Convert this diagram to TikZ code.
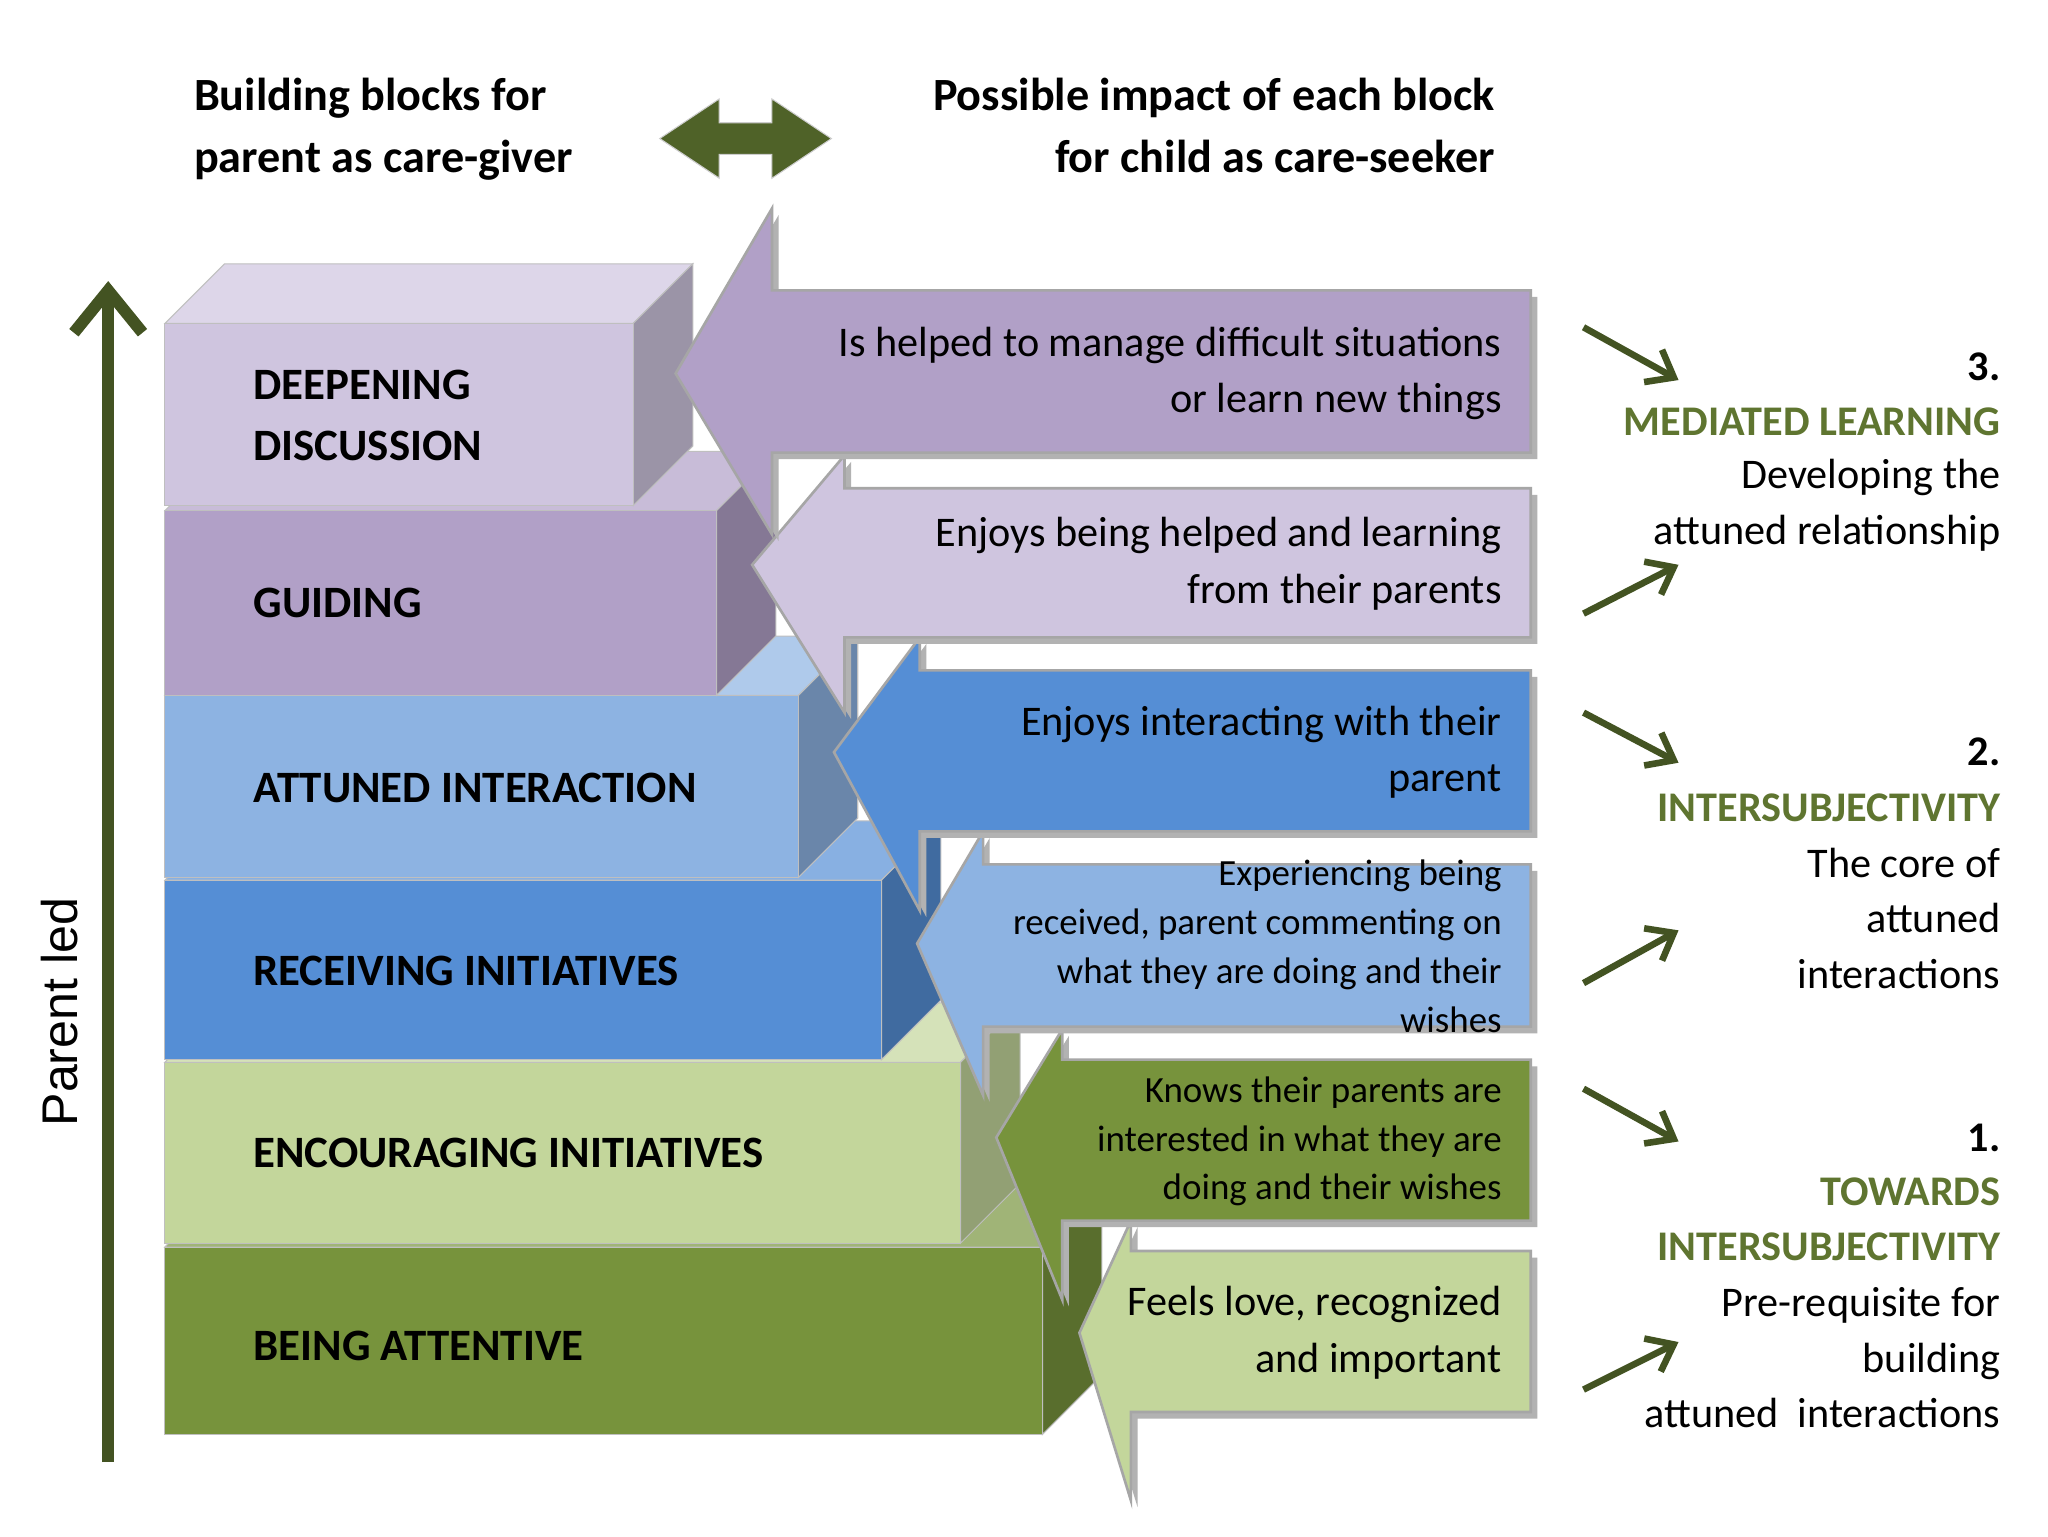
\documentclass[tikz,border=0pt]{standalone}
\usepackage{fontspec}
\setmainfont{Carlito}
\newfontfamily\arialf{Liberation Sans}
\definecolor{olive}{HTML}{4F6228}
\definecolor{headc}{HTML}{5F7530}
\definecolor{cA}{HTML}{CFC5DF}\definecolor{cB}{HTML}{B1A0C7}
\definecolor{cC}{HTML}{8DB3E2}\definecolor{cD}{HTML}{558ED5}
\definecolor{cE}{HTML}{C3D69B}\definecolor{cF}{HTML}{77933C}
\newcommand\myblock[4]{% x2, y1, y2, color
  \fill[#4!70!white,draw=black!25] (125,#2)--(170,#2-45)--(#1+45,#2-45)--(#1,#2)--cycle;
  \fill[#4!75!black,draw=black!25] (#1,#2)--(#1+45,#2-45)--(#1+45,#3-45)--(#1,#3)--cycle;
  \fill[#4,draw=black!25] (125,#2) rectangle (#1,#3);}
\newcommand\myarrow[8]{% xb,b1,b2,tipx,tipy,top,bot,color
  \fill[black!30] (1165,#2+5)--(#1+5,#2+5)--(#1+5,#6+5)--(#4+5,#5+5)--(#1+5,#7+5)--(#1+5,#3+5)--(1165,#3+5)--cycle;
  \fill[#8,draw=black!35,line width=1] (1160,#2)--(#1,#2)--(#1,#6)--(#4,#5)--(#1,#7)--(#1,#3)--(1160,#3)--cycle;}
\tikzset{blab/.style={anchor=west,font=\fontsize{17}{23}\selectfont\bfseries,align=left},
 atxt/.style={anchor=east,align=right,font=\fontsize{16}{21.5}\selectfont},
 rtxt/.style={anchor=east,align=right,font=\fontsize{16}{21}\selectfont},
 rhead/.style={anchor=east,align=right,font=\fontsize{16}{21}\selectfont\bfseries,text=headc},
 sarr/.style={draw=olive!85!black,line width=2.5,-{Straight Barb[length=9,width=14]}}}
\usetikzlibrary{arrows.meta}
\begin{document}
\begin{tikzpicture}[x=0.5pt,y=-0.5pt]
\useasboundingbox (0,0) rectangle (1552,1164);
\fill[white] (0,0) rectangle (1552,1164);
% blocks bottom to top
\myblock{790}{945}{1087}{cF}
\myblock{728}{805}{942}{cE}
\myblock{668}{667}{803}{cD}
\myblock{605}{527}{665}{cC}
\myblock{543}{387}{527}{cB}
\myblock{480}{245}{383}{cA}
\node[blab] (b6) at (185,1020) {BEING ATTENTIVE};
\node[blab] (b5) at (185,874) {ENCOURAGING INITIATIVES};
\node[blab] (b4) at (185,736) {RECEIVING INITIATIVES};
\node[blab] (b3) at (185,597) {ATTUNED INTERACTION};
\node[blab] (b2) at (185,457) {GUIDING};
\node[blab] (b1) at (185,315) {DEEPENING\\DISCUSSION};
% arrows bottom to top
\myarrow{857}{948}{1070}{818}{1010}{925}{1137}{cE}
\myarrow{805}{803}{925}{755}{862}{780}{985}{cF}
\myarrow{745}{655}{778}{695}{715}{630}{830}{cC}
\myarrow{697}{508}{630}{632}{570}{483}{690}{cD}
\myarrow{640}{370}{483}{570}{428}{345}{540}{cA}
\myarrow{585}{220}{343}{512}{283}{158}{405}{cB}
\node[atxt] (t6) at (1145,1010) {Feels love, recognized\\and important};
\node[atxt,font=\fontsize{14}{18.5}\selectfont] (t5) at (1145,865) {Knows their parents are\\interested in what they are\\doing and their wishes};
\node[atxt,font=\fontsize{14}{18.5}\selectfont] (t4) at (1145,717) {Experiencing being\\received, parent commenting on\\what they are doing and their\\wishes};
\node[atxt] (t3) at (1145,570) {Enjoys interacting with their\\parent};
\node[atxt] (t2) at (1145,427) {Enjoys being helped and learning\\from their parents};
\node[atxt] (t1) at (1145,283) {Is helped to manage difficult situations\\or learn new things};
% titles
\node[anchor=north west,align=left,font=\fontsize{17.5}{23.5}\selectfont\bfseries] (tl) at (140,52) {Building blocks for\\parent as care-giver};
\node[anchor=north east,align=right,font=\fontsize{17.5}{23.5}\selectfont\bfseries] (tr) at (1140,52) {Possible impact of each block\\for child as care-seeker};
\fill[olive,draw=black!20] (500,105)--(545,75)--(545,93)--(585,93)--(585,75)--(630,105)--(585,135)--(585,117)--(545,117)--(545,135)--cycle;
% vertical arrow
\coordinate (va) at (82,1108); \coordinate (vb) at (82,213);
\draw[olive!85!black,line width=4.5,-{Straight Barb[length=16,width=26]}] (va)--(vb);
\node[rotate=90,font=\arialf\fontsize{19}{23}\selectfont] (pl) at (45,767) {Parent led};
% right side
\draw[sarr] (1200,248)--(1272,288); \draw[sarr] (1200,465)--(1272,428);
\draw[sarr] (1200,540)--(1272,578); \draw[sarr] (1200,745)--(1272,705);
\draw[sarr] (1200,825)--(1272,865); \draw[sarr] (1200,1053)--(1272,1017);
\node[rtxt,font=\fontsize{16}{21}\selectfont\bfseries] (n3) at (1523,278) {3.};
\node[rhead] (h3) at (1523,320) {MEDIATED LEARNING};
\node[rtxt] (d3) at (1523,383) {Developing the\\attuned relationship};
\node[rtxt,font=\fontsize{16}{21}\selectfont\bfseries] (n2) at (1523,570) {2.};
\node[rhead] (h2) at (1523,612) {INTERSUBJECTIVITY};
\node[rtxt] (d2) at (1523,696) {The core of\\attuned\\interactions};
\node[rtxt,font=\fontsize{16}{21}\selectfont\bfseries] (n1) at (1523,862) {1.};
\node[rhead] (h1) at (1523,924) {TOWARDS\\INTERSUBJECTIVITY};
\node[rtxt] (d1) at (1523,1029) {Pre-requisite for\\building\\attuned\ \ interactions};
\end{tikzpicture}
\end{document}
